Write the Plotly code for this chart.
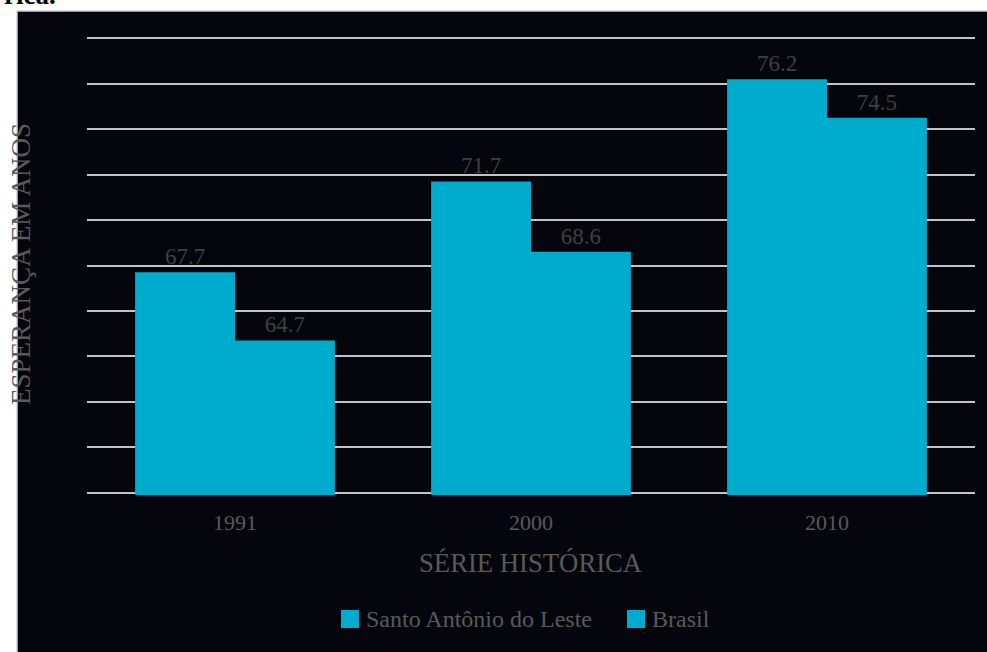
import plotly.graph_objects as go

categories = ["1991", "2000", "2010"]
santo_antonio = [67.7, 71.7, 76.2]
brasil = [64.7, 68.6, 74.5]
series_names = ["Santo Antônio do Leste", "Brasil"]

W, H = 987, 652
L, R, T, B = 87, 12, 36, 157
pw, ph = W - L - R, H - T - B

def px_x(px):
    return (px - L) / pw

def px_y(py):
    return (H - B - py) / ph

BAR = "#00ACCE"
BG = "#05050E"
FONT = "Liberation Serif"
GREY = "#595959"

fig = go.Figure()
for name, vals in zip(series_names, [santo_antonio, brasil]):
    fig.add_trace(go.Bar(
        x=categories, y=vals, name=name, marker=dict(color=BAR, line=dict(width=0)),
        text=[f"{v:.1f}" for v in vals], textposition="outside",
        textfont=dict(family=FONT, size=23, color="#404040"),
        cliponaxis=False, showlegend=False,
    ))

shapes = [dict(type="rect", xref="paper", yref="paper",
               x0=px_x(17), x1=px_x(990), y0=px_y(655), y1=px_y(11),
               fillcolor=BG, line=dict(color="#D0D0D0", width=1.5), layer="below")]

annotations = [
    dict(text="ESPERANÇA EM ANOS", xref="paper", yref="paper",
         x=px_x(21), y=px_y(264), textangle=-90, showarrow=False,
         xanchor="center", yanchor="middle",
         font=dict(family=FONT, size=27, color=GREY)),
    dict(text="SÉRIE HISTÓRICA", xref="paper", yref="paper",
         x=px_x(531), y=px_y(563), showarrow=False,
         xanchor="center", yanchor="middle",
         font=dict(family=FONT, size=26.7, color=GREY)),
    dict(text="<b>rica.</b>", xref="paper", yref="paper",
         x=px_x(58), y=px_y(12), showarrow=False,
         xanchor="right", yanchor="bottom",
         font=dict(family=FONT, size=27, color="black")),
]

# manual legend
legend_sq = [(341, 619), (627, 619)]
for name, (sx, sy) in zip(series_names, legend_sq):
    shapes.append(dict(type="rect", xref="paper", yref="paper",
                       x0=px_x(sx), x1=px_x(sx + 18), y0=px_y(sy + 9), y1=px_y(sy - 9),
                       fillcolor=BAR, line=dict(width=0)))
    annotations.append(dict(text=name, xref="paper", yref="paper",
                            x=px_x(sx + 23), y=px_y(sy), showarrow=False,
                            xanchor="left", yanchor="middle",
                            font=dict(family=FONT, size=24, color=GREY)))

fig.update_layout(
    width=W, height=H,
    margin=dict(l=L, r=R, t=T, b=B),
    paper_bgcolor="white", plot_bgcolor=BG,
    barmode="group", bargap=0.325, bargroupgap=0,
    font=dict(family=FONT, color=GREY),
    showlegend=False,
    xaxis=dict(showgrid=False, showline=False, ticks="", ticklabelstandoff=12,
               tickfont=dict(family=FONT, size=22, color=GREY)),
    yaxis=dict(range=[57.9, 78.1], tickvals=list(range(58, 80, 2)),
               showticklabels=False, ticks="",
               showgrid=True, gridcolor="#C4C4C4", gridwidth=1.5,
               zeroline=False, showline=False),
    shapes=shapes,
    annotations=annotations,
)

fig.write_html("out.html")
